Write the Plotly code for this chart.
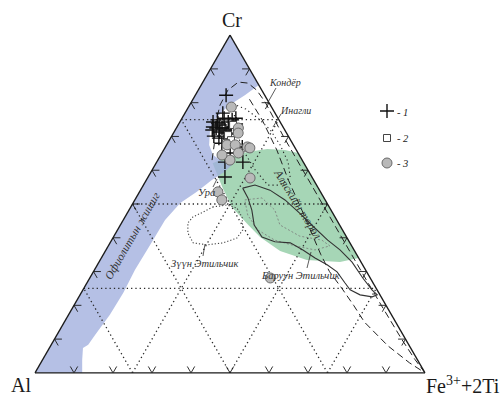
import plotly.graph_objects as go

# ---------------------------------------------------------------
# Cr – Al – (Fe3+ + 2Ti) spinel triangle; values in %, Al = 100 - Cr - Fe
# ---------------------------------------------------------------

# 1 — crosses
pts1_cr = [82.2, 76.9, 74.3, 74.9, 73.4, 75.4, 74.3, 74.9, 75.4, 71.9, 72.5, 71.3, 71.9,
           72.5, 72.8, 70.1, 69.5, 70.1, 70.7, 68.0, 66.9, 65.1, 62.4, 62.4, 58.0,
           74.0, 72.5, 71.0, 72.8, 73.7]
pts1_fe = [7.9, 9.7, 8.5, 9.3, 10.7, 10.8, 12.4, 13.1, 13.8, 9.5, 10.2, 11.7, 12.8,
           13.5, 14.6, 10.8, 12.4, 13.4, 14.9, 13.9, 19.7, 17.5, 22.1, 17.5, 19.7,
           9.9, 11.7, 13.7, 9.2, 14.7]

# 2 — open squares
pts2_cr = [70.4, 68.9, 73.4, 68.0]
pts2_fe = [14.3, 15.8, 14.1, 15.0]

# 3 — grey circles
pts3_cr = [78.7, 72.5, 71.0, 67.5, 67.5, 66.9, 66.6, 65.1, 63.0, 64.5, 57.7, 53.6, 51.2, 28.1]
pts3_fe = [11.0, 15.9, 16.6, 15.5, 17.6, 21.0, 21.8, 19.6, 18.5, 15.7, 26.3, 20.1, 22.3, 46.3]

# Ophiolite trend (blue band)
ophi_cr = [100, 85.2, 82.2, 79.0, 75.4, 71.3, 67.5, 64.5, 62.7, 62.1, 59.5, 57.1, 53.6, 50.3,
           45.3, 37.9, 30.5, 23.7, 17.2, 11.2, 8.3, 7.4, 3.8, 0, 0, 100]
ophi_fe = [0, 14.8, 12.7, 10.0, 8.7, 9.2, 10.9, 13.4, 16.5, 19.9, 18.8, 16.8, 14.7, 12.1,
           10.7, 10.6, 10.4, 10.8, 10.6, 9.8, 9.5, 8.6, 10.2, 12.1, 0, 0]

# Alaskan-type field (green)
alas_cr = [62.1, 63.0, 63.9, 65.4, 66.3, 66.0, 65.1, 34.0, 32.8, 33.4, 36.1, 40.2, 44.1, 49.1, 54.7, 59.5, 62.1]
alas_fe = [14.5, 15.9, 18.0, 21.7, 26.4, 31.1, 34.9, 66.0, 61.8, 53.0, 44.8, 37.6, 32.4, 25.9, 20.8, 16.7, 14.5]

# Kondyor field (dashed)
kond_cr = [63.0, 67.5, 73.4, 79.3, 83.7, 86.1, 85.8, 83.7, 80.2, 70, 60, 50, 40, 30, 20, 10, 4, 0]
kond_fe = [13.9, 12.2, 9.5, 7.8, 7.6, 9.1, 11.7, 15.0, 18.9, 28.7, 38.7, 48.7, 58.7, 68.7, 78.8, 89.0, 95.4, 100]

# second dashed boundary
kond2_cr = [81, 75, 66, 57, 48, 42, 35, 30, 25, 20, 15, 8, 3, 0]
kond2_fe = [14.5, 20.7, 29, 36.5, 44.5, 49.7, 55.8, 60.5, 66.2, 71.7, 77, 86.5, 94.5, 100]

# Inagli field (dotted)
inag_cr = [79.6, 78.1, 75.4, 71.9, 67.5, 62.4, 57.7, 55.6, 55.6, 60.1, 66.0, 71.9, 79.6]
inag_fe = [11.0, 15.0, 19.5, 24.4, 29.1, 33.7, 36.6, 35.0, 31.9, 26.4, 20.3, 15.6, 11.0]

# West Etilchik (solid outline)
west_cr = [54.7, 55.6, 54.1, 51.2, 47.3, 42.9, 39.3, 36.4, 32.8, 28.1, 24.6, 23.1, 22.5, 23.1, 24.6,
           26.6, 29.9, 32.0, 34.0, 36.4, 38.5, 38.8, 40.2, 43.8, 48.2, 51.8, 54.7]
west_fe = [25.9, 28.6, 33.2, 38.5, 44.2, 50.3, 55.4, 60.0, 64.9, 70.0, 74.1, 76.2, 75.2, 71.8, 68.5,
           66.2, 62.5, 58.9, 54.8, 50.5, 46.2, 42.1, 38.1, 34.3, 31.5, 28.7, 25.9]

# East Etilchik (dotted outline)
east_cr = [49.1, 49.7, 48.8, 45.9, 42.3, 39.9, 38.5, 37.9, 38.5, 41.4, 44.4, 46.2, 47.6, 49.1]
east_fe = [21.0, 24.3, 27.4, 30.2, 32.1, 31.8, 29.0, 25.2, 21.3, 18.5, 17.0, 17.4, 19.3, 21.0]

# thin grey outline inside the Alaskan field
grey_cr = [51.2, 51.8, 48.2, 43.8, 40.5, 39.3, 37.6, 36.4, 37.6, 39.3, 42.3, 46.7, 51.2]
grey_fe = [28.2, 32.3, 37.4, 40.9, 47.6, 53.9, 56.8, 53.6, 47.9, 41.8, 36.0, 31.2, 28.2]

grid_levels = [25, 50, 75]
tick_levels = [10, 20, 30, 40, 50, 60, 70, 80, 90]
TICK = 1.9

# page geometry
W, H = 501, 399
ML, MR, MT, MB = 35, 76, 35, 26
PW, PH = W - ML - MR, H - MT - MB

SERIF = "Liberation Serif"
INK = "#1a1a1a"


def al_of(cr, fe):
    return [None if c is None else round(100 - c - f, 3) for c, f in zip(cr, fe)]


fig = go.Figure()


def tern(cr, fe, **kw):
    fig.add_trace(go.Scatterternary(a=cr, b=al_of(cr, fe), c=fe, showlegend=False,
                                    hoverinfo="skip", cliponaxis=False, **kw))


# filled fields
tern(alas_cr, alas_fe, mode="lines", fill="toself", fillcolor="rgb(166,214,182)",
     line=dict(width=0, color="rgba(0,0,0,0)"))
tern(ophi_cr, ophi_fe, mode="lines", fill="toself", fillcolor="rgba(160,174,222,0.78)",
     line=dict(width=0, color="rgba(0,0,0,0)"))

# 25 % dotted grid
gcr, gfe = [], []
for g in grid_levels:
    gcr += [g, g, None, 0, 100 - g, None, 0, 100 - g, None]
    gfe += [0, 100 - g, None, g, g, None, 100 - g, 0, None]
tern(gcr, gfe, mode="lines", line=dict(color="#2a2a2a", width=1.3, dash="1.3px,3px"), connectgaps=False)

# chevron ticks every 10 %
tcr, tfe = [], []
for t in tick_levels:
    # bottom edge (Cr = 0)
    tcr += [TICK, 0, TICK, None]
    tfe += [t, t, t - TICK, None]
    # left edge (Fe = 0)
    tcr += [t, t, t - TICK, None]
    tfe += [TICK, 0, TICK, None]
    # right edge (Al = 0)
    tcr += [t, t, t - TICK, None]
    tfe += [100 - t - TICK, 100 - t, 100 - t, None]
tern(tcr, tfe, mode="lines", line=dict(color=INK, width=0.9), connectgaps=False)

# field outlines
tern(grey_cr, grey_fe, mode="lines", line=dict(color="#7a7a7a", width=0.8, dash="2px,2px"))
tern(kond_cr, kond_fe, mode="lines", line=dict(color="#222", width=1.0, dash="7px,4px"))
tern(kond2_cr, kond2_fe, mode="lines", line=dict(color="#222", width=1.0, dash="7px,4px"))
tern(inag_cr, inag_fe, mode="lines", line=dict(color="#222", width=1.1, dash="1.2px,3px"))
tern(east_cr, east_fe, mode="lines", line=dict(color="#444", width=1.1, dash="1.2px,2px"))
tern(west_cr, west_fe, mode="lines", line=dict(color="#333", width=1.1))

# samples
mk1 = dict(symbol="cross-thin", size=10, line=dict(color="#111", width=1.4))
mk2 = dict(symbol="square", size=7, color="white", line=dict(color="#444", width=1))
mk3 = dict(symbol="circle", size=10, color="#b9b9b9", line=dict(color="#6a6a6a", width=1))
tern(pts1_cr, pts1_fe, mode="markers", marker=mk1)
tern(pts2_cr, pts2_fe, mode="markers", marker=mk2)
tern(pts3_cr, pts3_fe, mode="markers", marker=mk3)

# key glyphs on a pixel-scaled overlay
for y, mk in [(111, mk1), (138, mk2), (163, mk3)]:
    fig.add_trace(go.Scatter(x=[387], y=[y], mode="markers", marker=mk, showlegend=False,
                             hoverinfo="skip", xaxis="x", yaxis="y"))


def paper(px, py):
    return (px - ML) / PW, (H - MB - py) / PH


annotations = []


def label(text, px, py, size=10, italic=True, angle=0, anchor="center", color="#333"):
    x, y = paper(px, py)
    annotations.append(dict(text=text, x=x, y=y, xref="paper", yref="paper", showarrow=False,
                            xanchor=anchor, yanchor="middle", textangle=angle,
                            font=dict(family=SERIF, size=size, color=color,
                                      style="italic" if italic else "normal")))


label("Cr", 232, 20, size=20, italic=False, color=INK)
label("Al", 21, 385, size=20, italic=False, color=INK)
label("Fe<sup>3+</sup>+2Ti", 463, 385, size=20, italic=False, color=INK)

label("Кондёр", 285, 83, size=10)
label("Инагли", 295, 110, size=10)
label("Ура", 206, 192, size=10.5)
label("Зүүн Этильчик", 204, 263, size=10.5)
label("Баруун Этильчик", 300, 275, size=10.5)
label("Аляскийн төрөл", 298, 204, size=11.5, angle=58)
label("Офиолитын жишиг", 132, 236, size=11.5, angle=-60)

label("- 1", 395, 112, size=10.5, anchor="left", color="#222")
label("- 2", 395, 138, size=10.5, anchor="left", color="#222")
label("- 3", 395, 163, size=10.5, anchor="left", color="#222")

shapes = []
for (x0, y0, x1, y1) in [(276, 88, 267, 104), (281, 114, 273, 127), (217, 179, 213, 187),
                         (203, 256, 205, 244), (307, 268, 311, 252)]:
    a0, b0 = paper(x0, y0)
    a1, b1 = paper(x1, y1)
    shapes.append(dict(type="line", xref="paper", yref="paper", x0=a0, y0=b0, x1=a1, y1=b1,
                       line=dict(color="#333", width=0.8)))

axis_style = dict(showticklabels=False, ticks="", showgrid=False, linecolor=INK, linewidth=1.3,
                  title=dict(text=""))

fig.update_layout(
    width=W, height=H,
    margin=dict(l=ML, r=MR, t=MT, b=MB, pad=0),
    paper_bgcolor="white", plot_bgcolor="rgba(0,0,0,0)",
    showlegend=False,
    ternary=dict(sum=100, bgcolor="white",
                 aaxis=axis_style, baxis=axis_style, caxis=axis_style),
    xaxis=dict(range=[ML, W - MR], visible=False, fixedrange=True),
    yaxis=dict(range=[H - MB, MT], visible=False, fixedrange=True),
    annotations=annotations,
    shapes=shapes,
)

fig.write_html("out.html")
